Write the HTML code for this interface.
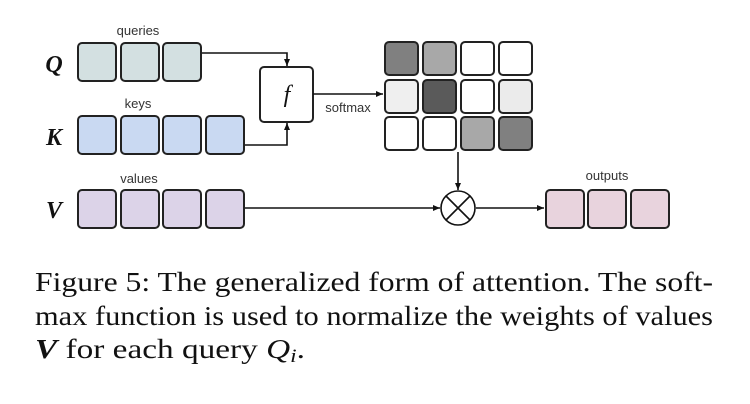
<!DOCTYPE html>
<html><head><meta charset="utf-8"><style>html,body{margin:0;padding:0;background:#fff;}svg{display:block}</style></head>
<body>
<svg width="750" height="404" viewBox="0 0 750 404" xmlns="http://www.w3.org/2000/svg">
<defs><marker id="a" markerWidth="8" markerHeight="8" refX="7" refY="4" orient="auto" markerUnits="userSpaceOnUse"><path d="M0,1 L7,4 L0,7 z" fill="#111"/></marker></defs>
<g font-family="Liberation Sans, sans-serif" font-size="13" fill="#333" text-anchor="middle">
<text x="138" y="35">queries</text>
<text x="138" y="108">keys</text>
<text x="139" y="183">values</text>
<text x="607" y="180">outputs</text>
<text x="348" y="112">softmax</text>
</g>
<g font-family="Liberation Serif, serif" font-weight="bold" font-style="italic" font-size="24" fill="#111" text-anchor="middle">
<text x="54" y="72">Q</text><text x="54" y="145">K</text><text x="54" y="218">V</text>
</g>
<g stroke="#222" stroke-width="2">
<rect x="78" y="43" width="38" height="38" rx="4" fill="#d3e0e1"/>
<rect x="121" y="43" width="38" height="38" rx="4" fill="#d3e0e1"/>
<rect x="163" y="43" width="38" height="38" rx="4" fill="#d3e0e1"/>
<rect x="78" y="116" width="38" height="38" rx="4" fill="#c9d9f2"/>
<rect x="121" y="116" width="38" height="38" rx="4" fill="#c9d9f2"/>
<rect x="163" y="116" width="38" height="38" rx="4" fill="#c9d9f2"/>
<rect x="206" y="116" width="38" height="38" rx="4" fill="#c9d9f2"/>
<rect x="78" y="190" width="38" height="38" rx="4" fill="#dcd3e8"/>
<rect x="121" y="190" width="38" height="38" rx="4" fill="#dcd3e8"/>
<rect x="163" y="190" width="38" height="38" rx="4" fill="#dcd3e8"/>
<rect x="206" y="190" width="38" height="38" rx="4" fill="#dcd3e8"/>
<rect x="546" y="190" width="38" height="38" rx="4" fill="#e8d3dd"/>
<rect x="588" y="190" width="38" height="38" rx="4" fill="#e8d3dd"/>
<rect x="631" y="190" width="38" height="38" rx="4" fill="#e8d3dd"/>
<rect x="260" y="67" width="53" height="55" rx="4" fill="#fff"/>
<rect x="385" y="42" width="33" height="33" rx="4" fill="#808080"/>
<rect x="423" y="42" width="33" height="33" rx="4" fill="#a8a8a8"/>
<rect x="461" y="42" width="33" height="33" rx="4" fill="#fff"/>
<rect x="499" y="42" width="33" height="33" rx="4" fill="#fff"/>
<rect x="385" y="80" width="33" height="33" rx="4" fill="#efefef"/>
<rect x="423" y="80" width="33" height="33" rx="4" fill="#5a5a5a"/>
<rect x="461" y="80" width="33" height="33" rx="4" fill="#fff"/>
<rect x="499" y="80" width="33" height="33" rx="4" fill="#ebebeb"/>
<rect x="385" y="117" width="33" height="33" rx="4" fill="#fff"/>
<rect x="423" y="117" width="33" height="33" rx="4" fill="#fff"/>
<rect x="461" y="117" width="33" height="33" rx="4" fill="#a8a8a8"/>
<rect x="499" y="117" width="33" height="33" rx="4" fill="#808080"/>
</g>
<g stroke="#111" stroke-width="1.6" fill="none">
<path d="M202,53 H287 V66" marker-end="url(#a)"/>
<path d="M245,145 H287 V123" marker-end="url(#a)"/>
<path d="M313,94 H383" marker-end="url(#a)"/>
<path d="M458,152 V190" marker-end="url(#a)"/>
<path d="M245,208 H440" marker-end="url(#a)"/>
<path d="M476,208 H544" marker-end="url(#a)"/>
<circle cx="458" cy="208" r="17" fill="#fff"/>
<path d="M446,196 L470,220 M470,196 L446,220"/>
</g>
<text x="287" y="102" font-family="Liberation Serif, serif" font-style="italic" font-size="24" text-anchor="middle" fill="#111">f</text>
<g font-family="Liberation Serif, serif" font-size="27" fill="#111">
<text x="35" y="291" textLength="678" lengthAdjust="spacingAndGlyphs">Figure 5: The generalized form of attention. The soft-</text>
<text x="35" y="325" textLength="678" lengthAdjust="spacingAndGlyphs">max function is used to normalize the weights of values</text>
<text x="35" y="358" textLength="270" lengthAdjust="spacingAndGlyphs"><tspan font-weight="bold" font-style="italic">V</tspan> for each query <tspan font-style="italic">Q</tspan><tspan font-style="italic" font-size="19" dy="4">i</tspan><tspan dy="-4">.</tspan></text>
</g>
</svg>
</body></html>
